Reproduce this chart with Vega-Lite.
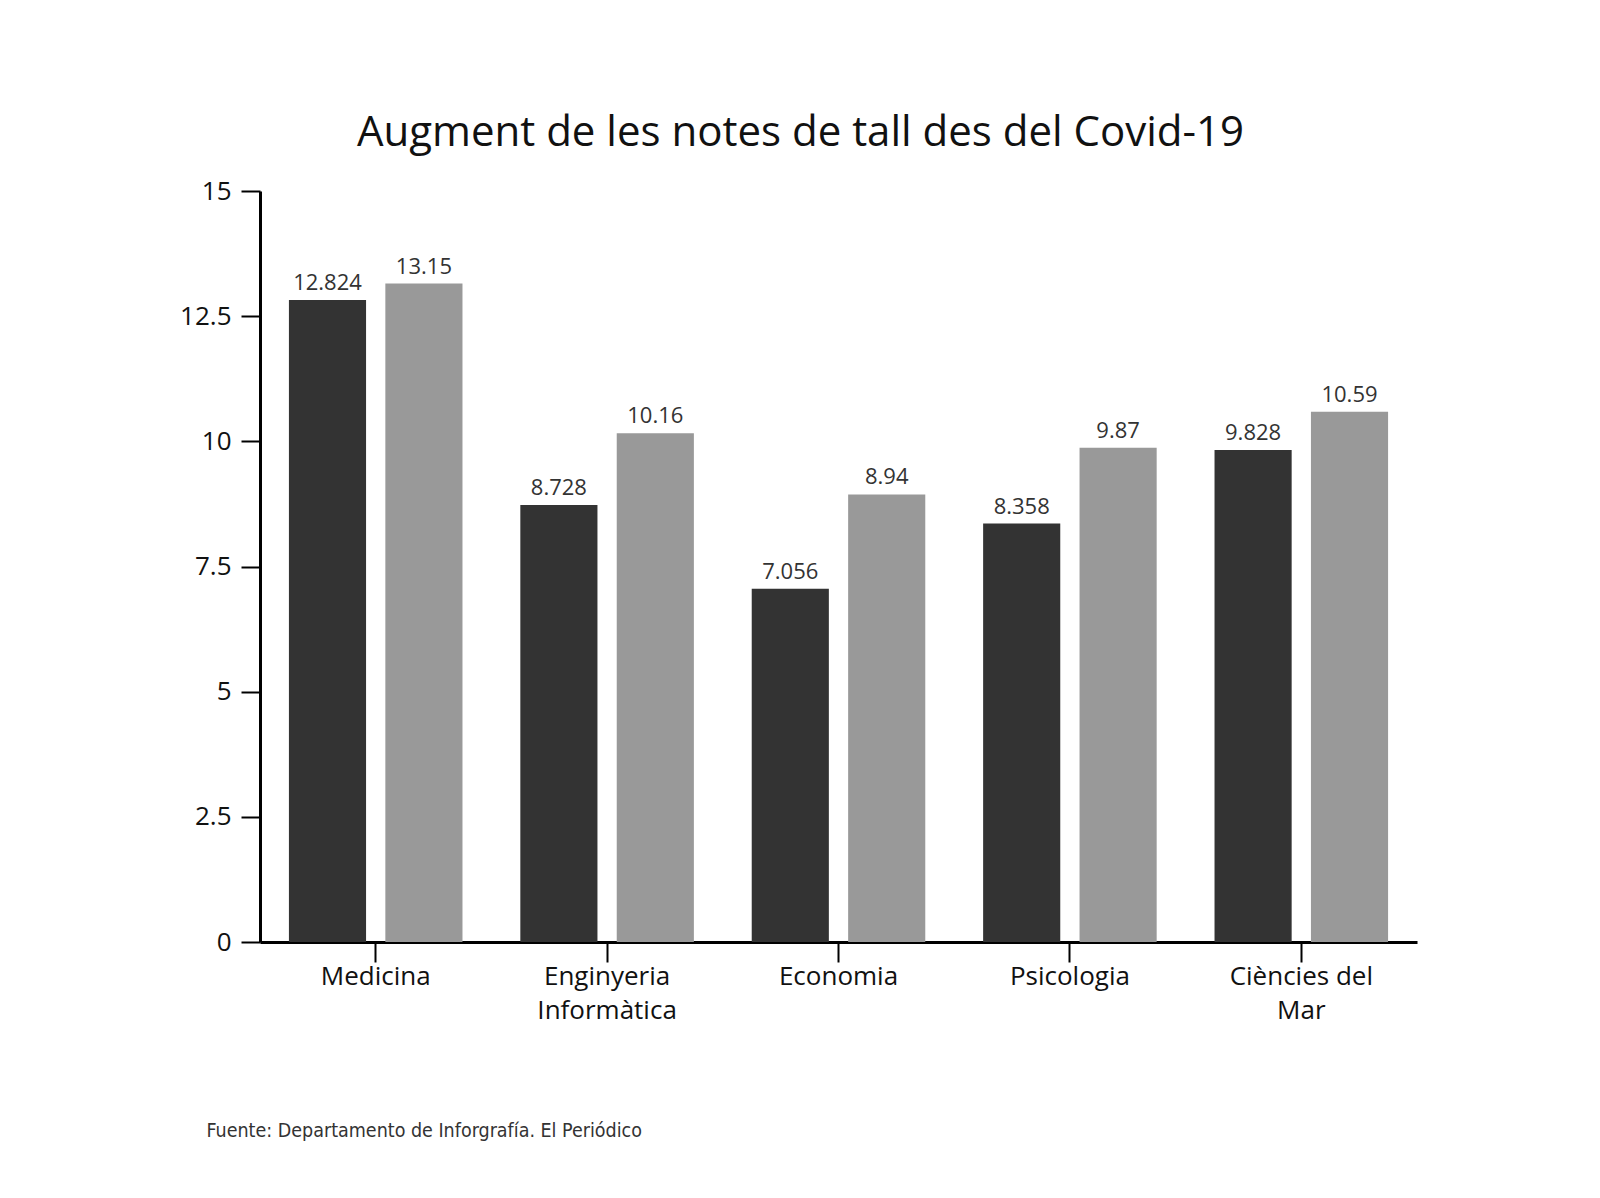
{
  "$schema": "https://vega.github.io/schema/vega-lite/v6.json",
  "width": 1157,
  "height": 751,
  "autosize": {"type": "none"},
  "padding": {"left": 260, "top": 191, "right": 183, "bottom": 256},
  "background": "white",
  "config": {"view": {"stroke": null}},
  "title": {
    "text": "Augment de les notes de tall des del Covid-19",
    "font": "Open Sans",
    "fontSize": 42,
    "fontWeight": "normal",
    "color": "#111111",
    "anchor": "middle",
    "frame": "group",
    "dx": -38,
    "dy": 56,
    "baseline": "alphabetic",
    "offset": 46
  },
  "data": {
    "values": [
      {"carrera": "Medicina", "serie": "Abans", "nota": 12.824},
      {"carrera": "Medicina", "serie": "Després", "nota": 13.15},
      {"carrera": "Enginyeria Informàtica", "serie": "Abans", "nota": 8.728},
      {"carrera": "Enginyeria Informàtica", "serie": "Després", "nota": 10.16},
      {"carrera": "Economia", "serie": "Abans", "nota": 7.056},
      {"carrera": "Economia", "serie": "Després", "nota": 8.94},
      {"carrera": "Psicologia", "serie": "Abans", "nota": 8.358},
      {"carrera": "Psicologia", "serie": "Després", "nota": 9.87},
      {"carrera": "Ciències del Mar", "serie": "Abans", "nota": 9.828},
      {"carrera": "Ciències del Mar", "serie": "Després", "nota": 10.59}
    ]
  },
  "encoding": {
    "x": {
      "field": "carrera",
      "type": "nominal",
      "sort": null,
      "scale": {"paddingInner": 0.25, "paddingOuter": 0.125},
      "axis": {
        "domainColor": "#000000",
        "domainWidth": 3,
        "tickColor": "#000000",
        "tickWidth": 2,
        "tickSize": 20,
        "labelFont": "Open Sans",
        "labelFontSize": 26,
        "labelColor": "#111111",
        "labelAngle": 0,
        "labelPadding": 1,
        "labelBaseline": "top",
        "labelLineHeight": 34,
        "labelExpr": "datum.value == 'Enginyeria Informàtica' ? ['Enginyeria', 'Informàtica'] : datum.value == 'Ciències del Mar' ? ['Ciències del', 'Mar'] : datum.label",
        "grid": false,
        "title": "Fuente: Departamento de Inforgrafía. El Periódico",
        "titleFont": "DejaVu Sans Condensed, Liberation Sans Narrow, sans-serif",
        "titleFontSize": 19.5,
        "titleFontWeight": "normal",
        "titleColor": "#333333",
        "titleAlign": "left",
        "titleAnchor": null,
        "titleBaseline": "alphabetic",
        "titleX": -54,
        "titleY": 194
      }
    },
    "xOffset": {
      "field": "serie",
      "type": "nominal",
      "sort": null,
      "scale": {"paddingInner": 0.2, "paddingOuter": 0}
    },
    "y": {
      "field": "nota",
      "type": "quantitative",
      "scale": {"domain": [0, 15], "nice": false},
      "axis": {
        "values": [0, 2.5, 5, 7.5, 10, 12.5, 15],
        "labelExpr": "toString(datum.value)",
        "domainColor": "#000000",
        "domainWidth": 3,
        "tickColor": "#000000",
        "tickWidth": 2,
        "tickSize": 19,
        "labelFont": "Open Sans",
        "labelFontSize": 26,
        "labelColor": "#111111",
        "labelPadding": 10,
        "grid": false,
        "title": null
      }
    }
  },
  "layer": [
    {
      "mark": {"type": "bar"},
      "encoding": {
        "color": {
          "field": "serie",
          "type": "nominal",
          "sort": null,
          "scale": {"domain": ["Abans", "Després"], "range": ["#333333", "#999999"]},
          "legend": null
        }
      }
    },
    {
      "mark": {
        "type": "text",
        "dy": -10,
        "baseline": "alphabetic",
        "align": "center",
        "font": "Open Sans",
        "fontSize": 22,
        "color": "#333333"
      },
      "encoding": {
        "text": {"field": "nota", "type": "quantitative", "format": "~g"}
      }
    }
  ]
}
